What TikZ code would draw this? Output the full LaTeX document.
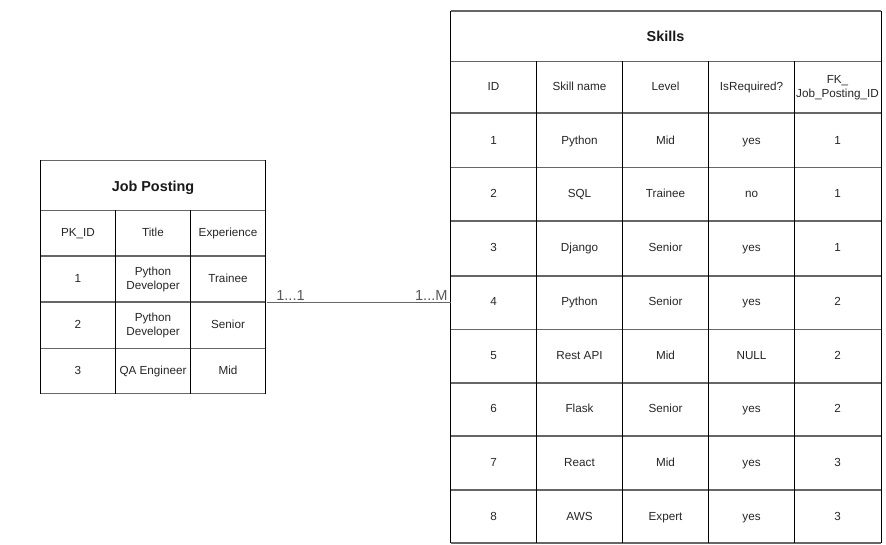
\documentclass[tikz,border=0pt]{standalone}
\usepackage{fontspec}
\setmainfont{Liberation Sans}
\usepackage{tikz}
\tikzset{
  cell/.style={font=\fontsize{11.7}{14}\selectfont, text=black!85, inner sep=0pt,
    text height=9pt, text depth=1.5pt},
  twoline/.style={font=\fontsize{11.7}{14.5}\selectfont, text=black!85, align=center, inner sep=0pt},
  title/.style={font=\fontsize{14.4}{16}\selectfont\bfseries, text=black!90, inner sep=0pt,
    text height=11pt, text depth=2pt},
  card/.style={font=\fontsize{14.6}{16}\selectfont, text=black!65, inner sep=0pt},
  rowline/.style={draw=black!60, line width=1.3pt}
}

\begin{document}
\begin{tikzpicture}[x=1pt, y=-1pt, line width=0.9pt]
  \useasboundingbox (0,0) rectangle (886,545);

  % Job Posting table
  \foreach \y in {160.5,210.5,256,302,348.5,393.5} \draw[rowline] (40.5,\y) -- (265.5,\y);
  \draw (40.5,160.5) -- (40.5,393.5);
  \draw (265.5,160.5) -- (265.5,393.5);
  \foreach \x in {115.5,190.5} \draw (\x,210.5) -- (\x,393.5);
  \node[title] (jp-title) at (153,187) {Job Posting};
  \node[cell] (jp-h1) at (78,233) {PK\_ID};
  \node[cell] (jp-h2) at (153,233) {Title};
  \node[cell] (jp-h3) at (228,233) {Experience};
  \node[cell] (jp-1-1) at (78,279) {1};
  \node[twoline] (jp-1-2) at (153,279.5) {Python\\Developer};
  \node[cell] (jp-1-3) at (228,279) {Trainee};
  \node[cell] (jp-2-1) at (78,325) {2};
  \node[twoline] (jp-2-2) at (153,325.5) {Python\\Developer};
  \node[cell] (jp-2-3) at (228,325) {Senior};
  \node[cell] (jp-3-1) at (78,371) {3};
  \node[cell] (jp-3-2) at (153,371) {QA Engineer};
  \node[cell] (jp-3-3) at (228,371) {Mid};

  % Skills table
  \foreach \y in {11,61.5,113,167.5,221,276,329.5,383,436,490,543} \draw[rowline] (450.5,\y) -- (881,\y);
  \draw (450.5,11) -- (450.5,543);
  \draw (881,11) -- (881,543);
  \foreach \x in {536.5,622.5,708.5,794.5} \draw (\x,61.5) -- (\x,543);
  \node[title] (sk-title) at (665.5,37.5) {Skills};
  \node[cell] (sk-h1) at (493.5,87) {ID};
  \node[cell] (sk-h2) at (579.5,87) {Skill name};
  \node[cell] (sk-h3) at (665.5,87) {Level};
  \node[cell] (sk-h4) at (751.5,87) {IsRequired?};
  \node[twoline] (sk-h5) at (837.5,87.5) {FK\_\\Job\_Posting\_ID};
  \foreach \id/\skill/\lvl/\req/\fk [count=\i] in {1/Python/Mid/yes/1, 2/SQL/Trainee/no/1,
      3/Django/Senior/yes/1, 4/Python/Senior/yes/2, 5/Rest API/Mid/NULL/2,
      6/Flask/Senior/yes/2, 7/React/Mid/yes/3, 8/AWS/Expert/yes/3} {
    \pgfmathsetmacro\yc{140.3+(\i-1)*53.75}
    \node[cell] (sk-\i-1) at (493.5,\yc) {\id};
    \node[cell] (sk-\i-2) at (579.5,\yc) {\skill};
    \node[cell] (sk-\i-3) at (665.5,\yc) {\lvl};
    \node[cell] (sk-\i-4) at (751.5,\yc) {\req};
    \node[cell] (sk-\i-5) at (837.5,\yc) {\fk};
  }

  % relation
  \coordinate (jp-link) at (266.5,302.3);
  \coordinate (sk-link) at (450.5,302.3);
  \draw[rowline] (jp-link) -- (sk-link);
  \node[card, anchor=base] (card-one) at (290.5,301) {1...1};
  \node[card, anchor=base east] (card-many) at (448,301) {1...M};
\end{tikzpicture}
\end{document}
